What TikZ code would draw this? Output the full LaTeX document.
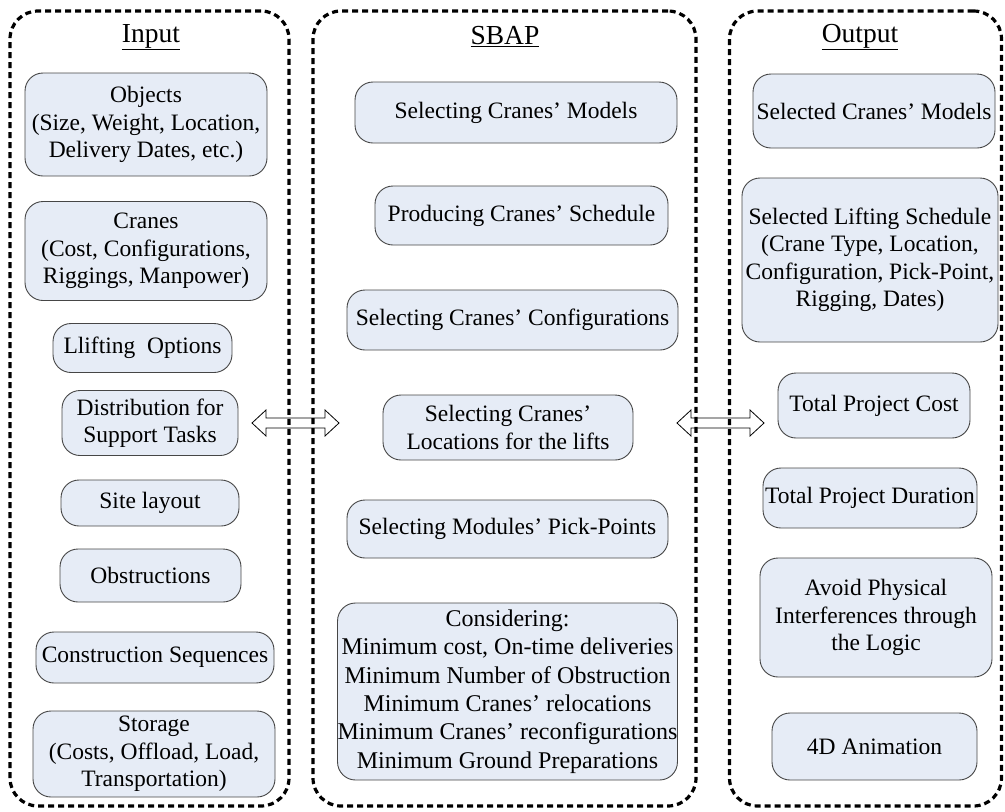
\documentclass[tikz,border=0pt]{standalone}
\usepackage{fontspec}
\setmainfont{Liberation Serif}
\usetikzlibrary{calc}
\definecolor{boxfill}{RGB}{230,236,246}
\definecolor{boxline}{RGB}{70,70,70}
\tikzset{
  item/.style={draw=boxline, fill=boxfill, line width=0.9pt, rounded corners=18pt,
    align=center, inner sep=0pt, font=\fontsize{23.5}{27.5}\selectfont},
  panel/.style={draw=black, line width=3.2pt, dash pattern=on 6pt off 4pt,
    rounded corners=28pt, inner sep=0pt},
  heading/.style={font=\fontsize{27.5}{30}\selectfont, inner sep=0pt},
  blockarrow/.style={draw=black, line width=0.8pt, fill=white, line join=miter},
}
\begin{document}
\begin{tikzpicture}[x=1pt, y=-1pt]
\useasboundingbox (0,0) rectangle (1005,812);

% two-way block arrows between the columns
\coordinate (la) at (252,423);
\coordinate (lb) at (339,423);
\coordinate (ra) at (677,423);
\coordinate (rb) at (764,423);
\draw[blockarrow] (la) -- ++(14,-13) -- ++(0,8) -- ($(lb)+(-14,-5)$) -- ++(0,-8) -- (lb)
  -- ++(-14,13) -- ++(0,-8) -- ($(la)+(14,5)$) -- ++(0,8) -- cycle;
\draw[blockarrow] (ra) -- ++(14,-13) -- ++(0,8) -- ($(rb)+(-14,-5)$) -- ++(0,-8) -- (rb)
  -- ++(-14,13) -- ++(0,-8) -- ($(ra)+(14,5)$) -- ++(0,8) -- cycle;

% dashed column frames
\node[panel, minimum width=279pt, minimum height=795pt] (inpanel) at (149.5,408.5) {};
\node[panel, minimum width=383pt, minimum height=795pt] (sbappanel) at (504.5,408.5) {};
\node[panel, minimum width=272pt, minimum height=795pt] (outpanel) at (865.5,408.5) {};

% headings
\node[heading] (inhead) at (151,37) {\underline{Input}};
\node[heading] (sbaphead) at (505,37) {\underline{SBAP}};
\node[heading] (outhead) at (860,37) {\underline{Output}};

% input column
\node[item, minimum width=242pt, minimum height=103pt] (objects) at (146,124.5)
  {Objects\\(Size, Weight, Location,\\Delivery Dates, etc.)};
\node[item, minimum width=242pt, minimum height=99pt] (cranes) at (146,251)
  {Cranes\\(Cost, Configurations,\\Riggings, Manpower)};
\node[item, minimum width=179pt, minimum height=49pt] (lifting) at (142.5,348)
  {Llifting\ \ Options};
\node[item, minimum width=176pt, minimum height=65pt] (distrib) at (150,423)
  {Distribution for\\Support Tasks};
\node[item, minimum width=178pt, minimum height=46pt] (site) at (150,503)
  {Site layout};
\node[item, minimum width=181pt, minimum height=53pt] (obstr) at (150.5,575.5)
  {Obstructions};
\node[item, minimum width=238pt, minimum height=51pt] (consseq) at (155,657.5)
  {Construction Sequences};
\node[item, minimum width=242pt, minimum height=86pt] (storage) at (154,754)
  {Storage\\(Costs, Offload, Load,\\Transportation)};

% SBAP column
\node[item, minimum width=322pt, minimum height=61pt] (selmodels) at (516,112.5)
  {Selecting Cranes’ Models};
\node[item, minimum width=293pt, minimum height=59pt] (schedule) at (521.5,215.5)
  {Producing Cranes’ Schedule};
\node[item, minimum width=331pt, minimum height=60pt] (selconf) at (512.5,320)
  {Selecting Cranes’ Configurations};
\node[item, minimum width=250pt, minimum height=65pt] (selloc) at (508,427.5)
  {Selecting Cranes’\\Locations for the lifts};
\node[item, minimum width=321pt, minimum height=58pt] (pickpts) at (507.5,529)
  {Selecting Modules’ Pick-Points};
\node[item, minimum width=339pt, minimum height=177pt, font=\fontsize{24}{28.3}\selectfont]
  (consider) at (507.5,691.5)
  {Considering:\\Minimum cost, On-time deliveries\\Minimum Number of Obstruction\\
   Minimum Cranes’ relocations\\Minimum Cranes’ reconfigurations\\Minimum Ground Preparations};

% output column
\node[item, minimum width=242pt, minimum height=74pt] (outmodels) at (874,111)
  {Selected Cranes’ Models};
\node[item, minimum width=256pt, minimum height=164pt] (liftsched) at (870,260)
  {Selected Lifting Schedule\\(Crane Type, Location,\\Configuration, Pick-Point,\\Rigging, Dates)};
\node[item, minimum width=192pt, minimum height=65pt] (cost) at (874,405.5)
  {Total Project Cost};
\node[item, minimum width=214pt, minimum height=60pt] (duration) at (870,498)
  {Total Project Duration};
\node[item, minimum width=232pt, minimum height=119pt] (avoid) at (876,617.5)
  {Avoid Physical\\Interferences through\\the Logic};
\node[item, minimum width=205pt, minimum height=67pt] (anim) at (874.5,746.5)
  {4D Animation};
\end{tikzpicture}
\end{document}
